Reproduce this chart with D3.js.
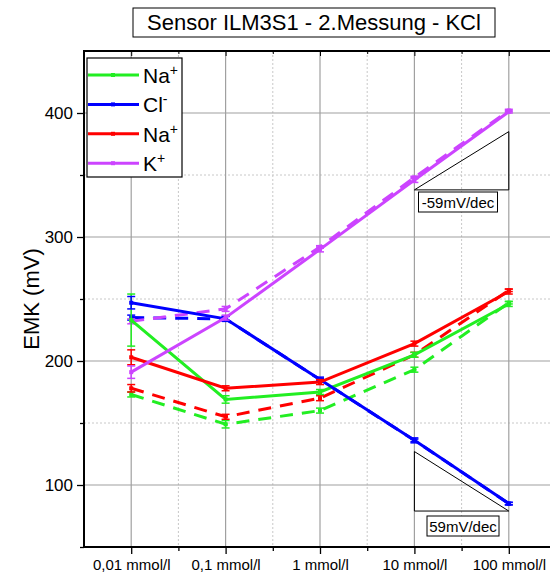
<!DOCTYPE html>
<html lang="de">
<head>
<meta charset="UTF-8">
<title>Sensor ILM3S1 - 2.Messung - KCl</title>
<style>
  body { margin: 0; background: #fff; }
  svg { display: block; font-family: "Liberation Sans", Arial, sans-serif; }
</style>
</head>
<body>
<svg id="chart" width="550" height="576"></svg>
<script src="https://d3js.org/d3.v7.min.js"></script>
<script>
// concentrations (categorical, log steps)
const categories = ["0,01 mmol/l", "0,1 mmol/l", "1 mmol/l", "10 mmol/l", "100 mmol/l"];
const yTicks = [100, 200, 300, 400];

// measured EMK (mV) - solid = series 1, dashed = series 2
const naSolid   = [233, 169, 175, 205, 246];
const naSolidErr = [21, 3, 2, 2, 2];
const clSolid   = [247, 234, 185, 136, 85];
const clSolidErr = [5, 2, 2, 2, 1];
const na2Solid  = [203, 178, 183, 214, 256];
const na2SolidErr = [6, 2, 2, 2, 2];
const kSolid    = [191, 235, 290, 346, 401];
const kSolidErr = [5, 2, 2, 2, 1];

const naDash    = [173, 149, 160, 193, 247];
const naDashErr = [2, 3, 2, 2, 1];
const clDash    = [235, 234, 185, 136, 85];
const clDashErr = [2, 2, 1, 1, 1];
const na2Dash   = [178, 155, 170, 205, 257];
const na2DashErr = [3, 2, 2, 2, 1];
const kDash     = [232, 242, 292, 348, 402];
const kDashErr = [2, 2, 1, 1, 1];

const colors = { na: "#22ee22", cl: "#0000ff", na2: "#ff0000", k: "#cc44ff" };

const series = [
  { vals: naDash, err: naDashErr, color: colors.na, dash: true },
  { vals: clDash, err: clDashErr, color: colors.cl, dash: true },
  { vals: na2Dash, err: na2DashErr, color: colors.na2, dash: true },
  { vals: kDash, err: kDashErr, color: colors.k, dash: true },
  { vals: naSolid, err: naSolidErr, color: colors.na, dash: false },
  { vals: clSolid, err: clSolidErr, color: colors.cl, dash: false },
  { vals: na2Solid, err: na2SolidErr, color: colors.na2, dash: false },
  { vals: kSolid, err: kSolidErr, color: colors.k, dash: false }
];

const legendItems = [
  { ion: "Na", sup: "+", color: colors.na },
  { ion: "Cl", sup: "-", color: colors.cl },
  { ion: "Na", sup: "+", color: colors.na2 },
  { ion: "K", sup: "+", color: colors.k }
];

// slope reference triangles (category index, mV)
const triUp = [[4, 338], [5, 385], [5, 338]];
const triDown = [[4, 127], [4, 79], [5, 79]];

const svg = d3.select("#chart");
const mLeft = 84, mTop = 51, mBottom = 547, mRight = 556;

const x = d3.scaleLinear().domain([0.5, 5.5]).range([mLeft, mRight]);
const y = d3.scaleLinear().domain([50, 450]).range([mBottom, mTop]);

svg.append("clipPath").attr("id", "clip")
  .append("rect").attr("x", mLeft).attr("y", mTop)
  .attr("width", mRight - mLeft).attr("height", mBottom - mTop);

const grid = svg.append("g");
const majorX = d3.range(1, 6);
const minorX = d3.range(1.5, 6, 1);
const minorY = [150, 250, 350];

grid.selectAll(".gxm").data(minorX).join("line")
  .attr("x1", d => x(d)).attr("x2", d => x(d)).attr("y1", mTop).attr("y2", mBottom)
  .attr("stroke", "#c8c8c8").attr("stroke-dasharray", "2,2");
grid.selectAll(".gym").data(minorY).join("line")
  .attr("x1", mLeft).attr("x2", mRight).attr("y1", d => y(d)).attr("y2", d => y(d))
  .attr("stroke", "#c8c8c8").attr("stroke-dasharray", "2,2");
grid.selectAll(".gx").data(majorX).join("line")
  .attr("x1", d => x(d)).attr("x2", d => x(d)).attr("y1", mTop).attr("y2", mBottom)
  .attr("stroke", "#a0a0a0").attr("stroke-width", 1.2);
grid.selectAll(".gy").data(yTicks).join("line")
  .attr("x1", mLeft).attr("x2", mRight).attr("y1", d => y(d)).attr("y2", d => y(d))
  .attr("stroke", "#a0a0a0").attr("stroke-width", 1.2);

// slope triangles
const tri = svg.append("g").attr("fill", "none").attr("stroke", "#000").attr("stroke-width", 1);
[triUp, triDown].forEach(t => {
  tri.append("path").attr("d", "M" + t.map(p => [x(p[0]), y(p[1])].join(",")).join("L") + "Z");
});

// data
const plot = svg.append("g").attr("clip-path", "url(#clip)");
const line = d3.line().x((d, i) => x(i + 1)).y(d => y(d));

series.forEach(s => {
  const g = plot.append("g");
  // error bars
  s.vals.forEach((v, i) => {
    const cx = x(i + 1);
    g.append("line").attr("x1", cx).attr("x2", cx)
      .attr("y1", y(v - s.err[i])).attr("y2", y(v + s.err[i]))
      .attr("stroke", s.color).attr("stroke-width", 1.5);
    [v - s.err[i], v + s.err[i]].forEach(e => {
      g.append("line").attr("x1", cx - 4).attr("x2", cx + 4)
        .attr("y1", y(e)).attr("y2", y(e))
        .attr("stroke", s.color).attr("stroke-width", 1.5);
    });
  });
  g.append("path").datum(s.vals)
    .attr("d", line).attr("fill", "none")
    .attr("stroke", s.color).attr("stroke-width", 3)
    .attr("stroke-dasharray", s.dash ? "13,9" : null);
  g.selectAll("rect").data(s.vals).join("rect")
    .attr("x", (d, i) => x(i + 1) - 2).attr("y", d => y(d) - 2)
    .attr("width", 4).attr("height", 4).attr("fill", s.color);
});

// axes
const xAxis = svg.append("g").attr("transform", `translate(0,${mBottom})`)
  .call(d3.axisBottom(x).tickValues(majorX).tickFormat(d => categories[d - 1]).tickSize(7).tickPadding(5));
xAxis.select(".domain").remove();
xAxis.selectAll("text").attr("font-size", 15).attr("fill", "#000")
  .attr("font-family", "Liberation Sans, Arial, sans-serif");
xAxis.selectAll("line").attr("stroke-width", 1.3);
svg.append("g").attr("transform", `translate(0,${mBottom})`)
  .call(d3.axisBottom(x).tickValues(minorX).tickFormat("").tickSize(4))
  .call(g => g.select(".domain").remove())
  .selectAll("line").attr("stroke-width", 1.3);

const yAxis = svg.append("g").attr("transform", `translate(${mLeft},0)`)
  .call(d3.axisLeft(y).tickValues(yTicks).tickSize(7).tickPadding(4));
yAxis.select(".domain").remove();
yAxis.selectAll("text").attr("font-size", 17).attr("fill", "#000")
  .attr("font-family", "Liberation Sans, Arial, sans-serif");
yAxis.selectAll("line").attr("stroke-width", 1.3);
svg.append("g").attr("transform", `translate(${mLeft},0)`)
  .call(d3.axisLeft(y).tickValues([50, 150, 250, 350]).tickFormat("").tickSize(4))
  .call(g => g.select(".domain").remove())
  .selectAll("line").attr("stroke-width", 1.3);

// top inward ticks
svg.append("g").attr("transform", `translate(0,${mTop})`)
  .call(d3.axisBottom(x).tickValues(majorX).tickFormat("").tickSize(5))
  .call(g => g.select(".domain").remove());
svg.append("g").attr("transform", `translate(0,${mTop})`)
  .call(d3.axisBottom(x).tickValues(minorX).tickFormat("").tickSize(3))
  .call(g => g.select(".domain").remove());

// frame
svg.append("path")
  .attr("d", `M${mRight},${mTop}H${mLeft}V${mBottom}H${mRight}`)
  .attr("fill", "none").attr("stroke", "#000").attr("stroke-width", 2);

// y label
svg.append("text")
  .attr("transform", `translate(39,${(mTop + mBottom) / 2}) rotate(-90)`)
  .attr("text-anchor", "middle").attr("font-size", 22).text("EMK (mV)");

// title
const title = svg.append("g");
title.append("rect").attr("x", 133).attr("y", 8).attr("width", 362).attr("height", 29)
  .attr("fill", "#fff").attr("stroke", "#000").attr("stroke-width", 1);
title.append("text").attr("x", 314).attr("y", 30).attr("text-anchor", "middle")
  .attr("font-size", 22).text("Sensor ILM3S1 - 2.Messung - KCl");

// slope labels
[{ t: "-59mV/dec", cx: 458, y0: 192, w: 79 }, { t: "59mV/dec", cx: 463, y0: 516, w: 72 }].forEach(l => {
  svg.append("rect").attr("x", l.cx - l.w / 2).attr("y", l.y0).attr("width", l.w).attr("height", 20)
    .attr("fill", "#fff").attr("stroke", "#000").attr("stroke-width", 1);
  svg.append("text").attr("x", l.cx).attr("y", l.y0 + 16).attr("text-anchor", "middle")
    .attr("font-size", 15).text(l.t);
});

// legend
const lg = svg.append("g");
lg.append("rect").attr("x", 87).attr("y", 58).attr("width", 95).attr("height", 119)
  .attr("fill", "#fff").attr("stroke", "#000").attr("stroke-width", 1.2);
legendItems.forEach((d, i) => {
  const ly = 75 + i * 29.4;
  lg.append("line").attr("x1", 88).attr("x2", 139).attr("y1", ly).attr("y2", ly)
    .attr("stroke", d.color).attr("stroke-width", 3);
  lg.append("rect").attr("x", 111).attr("y", ly - 2).attr("width", 4).attr("height", 4).attr("fill", d.color);
  const t = lg.append("text").attr("x", 143).attr("y", ly + 8).attr("font-size", 21);
  t.append("tspan").text(d.ion);
  t.append("tspan").attr("dy", -8).attr("font-size", 14).text(d.sup);
});
</script>
</body>
</html>
